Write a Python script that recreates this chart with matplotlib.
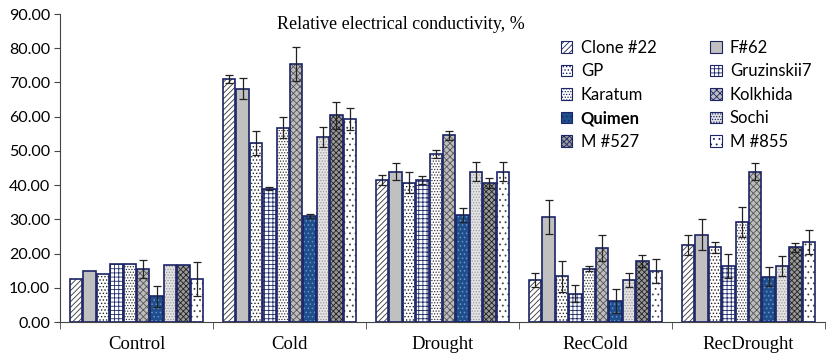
import matplotlib.pyplot as plt
import numpy as np
from matplotlib.patches import Patch

groups = ['Control', 'Cold', 'Drought', 'RecCold', 'RecDrought']
cultivars = ['Clone #22', 'F#62', 'GP', 'Gruzinskii7', 'Karatum',
             'Kolkhida', 'Quimen', 'Sochi', 'M #527', 'M #855']

# rows = cultivars, columns = groups
values = [
    [12.5, 71.0, 41.5, 12.3, 22.5],   # Clone #22
    [15.0, 68.2, 43.9, 30.7, 25.5],   # F#62
    [14.0, 52.3, 40.7, 13.4, 21.8],   # GP
    [17.0, 39.0, 41.5, 8.3, 16.4],    # Gruzinskii7
    [17.0, 56.8, 49.2, 15.6, 29.2],   # Karatum
    [15.5, 75.5, 54.5, 21.6, 43.9],   # Kolkhida
    [7.5, 31.0, 31.2, 6.1, 13.2],     # Quimen
    [16.7, 54.0, 43.9, 12.3, 16.3],   # Sochi
    [16.7, 60.4, 40.7, 17.9, 21.8],   # M #527
    [12.5, 59.3, 43.9, 15.0, 23.5],   # M #855
]
errors = [
    [0.0, 1.2, 1.5, 2.0, 3.0],
    [0.0, 3.0, 2.5, 5.0, 4.5],
    [0.0, 3.5, 3.0, 4.5, 1.5],
    [0.0, 0.5, 1.2, 2.5, 3.5],
    [0.0, 3.0, 1.2, 0.8, 4.5],
    [2.5, 5.0, 1.2, 3.8, 2.5],
    [3.0, 0.5, 2.0, 3.5, 2.8],
    [0.0, 3.0, 2.8, 2.0, 3.0],
    [0.0, 4.0, 1.5, 1.8, 1.2],
    [5.0, 3.3, 2.8, 3.5, 3.5],
]

# (face, hatch, hatch colour)
styles = [
    ('white', '//////', '#333333'),
    ('#c0c0c0', '', '#c0c0c0'),
    ('white', '.....', '#222222'),
    ('white', '++++', '#1f2a6b'),
    ('white', '......', '#333333'),
    ('#bdbdbd', 'xxxxx', '#555555'),
    ('#1f4e8c', '....', '#6a92c8'),
    ('#e3e3e3', '......', '#9a9a9a'),
    ('#9a9a9a', 'xxxxxx', '#222222'),
    ('white', '...', '#444444'),
]
edge = '#1a2466'

plt.rcParams['hatch.linewidth'] = 0.6

fig = plt.figure(figsize=(8.29, 3.6), dpi=100)
ax = fig.add_axes([60 / 829, 38 / 360, 765 / 829, 308 / 360])

n = len(cultivars)
x = np.arange(len(groups))
w = 0.875 / n
for i in range(n):
    pos = x - 0.875 / 2 + w * (i + 0.5)
    face, hatch, hc = styles[i]
    ax.bar(pos, values[i], w * 0.92, color=face, hatch=hatch,
           edgecolor=hc, linewidth=0, zorder=2)
    ax.bar(pos, values[i], w * 0.92, fill=False, edgecolor=edge,
           linewidth=1.2, zorder=3)
    err = np.array(errors[i])
    m = err > 0
    ax.errorbar(pos[m], np.array(values[i])[m], yerr=err[m], fmt='none',
                ecolor='#222222', elinewidth=0.9, capsize=3, capthick=0.9, zorder=4)

ax.set_xlim(-0.5, len(groups) - 0.5)
ax.set_ylim(0, 90)
ax.set_yticks(np.arange(0, 91, 10))
ax.set_yticklabels(['%.2f' % v for v in np.arange(0, 91, 10)],
                   fontfamily='Lato', fontsize=11.5)
ax.set_xticks(x)
ax.set_xticklabels(groups, fontfamily='Liberation Serif', fontsize=13.5)
ax.tick_params(axis='x', length=0, pad=10)
ax.set_xticks(np.arange(-0.5, len(groups)), minor=True)
ax.tick_params(axis='x', which='minor', length=5, color='#444444')
ax.tick_params(axis='y', length=4, color='#444444', pad=3)
for s in ['top', 'right']:
    ax.spines[s].set_visible(False)
ax.spines['left'].set_color('#444444')
ax.spines['bottom'].set_color('#444444')

ax.text(0.445, 0.965, 'Relative electrical conductivity, %', transform=ax.transAxes,
        ha='center', va='center', fontfamily='Liberation Serif', fontsize=13)

handles = [Patch(facecolor=s[0], hatch=s[1], edgecolor=edge, linewidth=0.8)
           for s in styles]
order = [0, 2, 4, 6, 8, 1, 3, 5, 7, 9]
leg = ax.legend([handles[k] for k in order], [cultivars[k] for k in order],
                ncol=2, loc='upper left', bbox_to_anchor=(0.635, 0.965),
                frameon=False, prop={'family': 'Lato', 'size': 12},
                handlelength=0.7, handleheight=0.7, handletextpad=0.5,
                columnspacing=3.2, labelspacing=0.45)
for t in leg.get_texts():
    if t.get_text() == 'Quimen':
        t.set_fontweight('bold')

fig.savefig('out.png', dpi=100)
